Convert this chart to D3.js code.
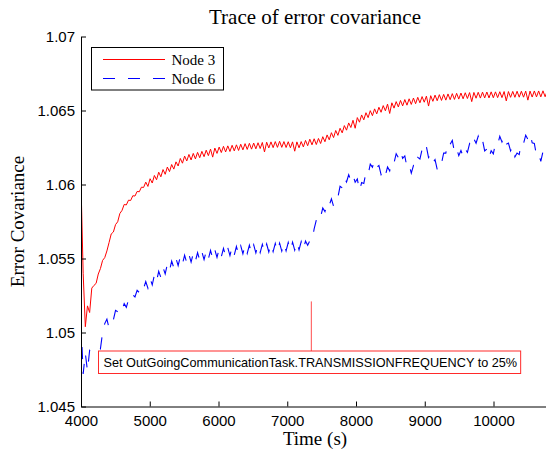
<!DOCTYPE html>
<html>
<head>
<meta charset="utf-8">
<script src="https://cdn.jsdelivr.net/npm/d3@7"></script>
<style>
  body { margin: 0; background: #fff; }
  svg { display: block; }
</style>
</head>
<body>
<svg id="chart" width="546" height="452"></svg>
<script>
// samples start at 4000 s, one every 31.4 s
const sampleStart = 4000;
const sampleStep = 31.4;

const node3 = [
  1.06008, 1.05400, 1.05039, 1.05180, 1.05135, 1.05300, 1.05318, 1.05332, 1.05395, 1.05432,
  1.05487, 1.05506, 1.05551, 1.05608, 1.05666, 1.05679, 1.05729, 1.05748, 1.05804, 1.05825,
  1.05865, 1.05862, 1.05894, 1.05892, 1.05924, 1.05922, 1.05953, 1.05951, 1.05982, 1.05980,
  1.06016, 1.05987, 1.06039, 1.06010, 1.06061, 1.06032, 1.06083, 1.06052, 1.06101, 1.06069,
  1.06118, 1.06087, 1.06135, 1.06104, 1.06153, 1.06125, 1.06176, 1.06144, 1.06192, 1.06159,
  1.06203, 1.06166, 1.06210, 1.06173, 1.06217, 1.06181, 1.06224, 1.06188, 1.06232, 1.06195,
  1.06239, 1.06185, 1.06246, 1.06210, 1.06253, 1.06216, 1.06258, 1.06220, 1.06261, 1.06223,
  1.06265, 1.06227, 1.06268, 1.06230, 1.06272, 1.06234, 1.06276, 1.06237, 1.06278, 1.06239,
  1.06280, 1.06241, 1.06282, 1.06243, 1.06284, 1.06220, 1.06286, 1.06247, 1.06288, 1.06249,
  1.06290, 1.06251, 1.06292, 1.06251, 1.06290, 1.06250, 1.06289, 1.06248, 1.06288, 1.06225,
  1.06288, 1.06248, 1.06290, 1.06254, 1.06298, 1.06262, 1.06306, 1.06268, 1.06309, 1.06270,
  1.06311, 1.06277, 1.06323, 1.06289, 1.06335, 1.06302, 1.06350, 1.06317, 1.06365, 1.06332,
  1.06380, 1.06349, 1.06398, 1.06367, 1.06416, 1.06385, 1.06434, 1.06380, 1.06452, 1.06421,
  1.06470, 1.06437, 1.06485, 1.06452, 1.06499, 1.06465, 1.06511, 1.06477, 1.06522, 1.06488,
  1.06533, 1.06498, 1.06543, 1.06480, 1.06552, 1.06516, 1.06560, 1.06524, 1.06568, 1.06531,
  1.06574, 1.06536, 1.06579, 1.06541, 1.06584, 1.06546, 1.06589, 1.06552, 1.06594, 1.06556,
  1.06597, 1.06530, 1.06600, 1.06562, 1.06604, 1.06566, 1.06607, 1.06568, 1.06609, 1.06570,
  1.06612, 1.06573, 1.06614, 1.06575, 1.06616, 1.06577, 1.06618, 1.06579, 1.06620, 1.06581,
  1.06621, 1.06560, 1.06622, 1.06583, 1.06623, 1.06584, 1.06624, 1.06585, 1.06625, 1.06585,
  1.06626, 1.06586, 1.06626, 1.06587, 1.06627, 1.06587, 1.06628, 1.06565, 1.06628, 1.06589,
  1.06629, 1.06589, 1.06630, 1.06590, 1.06630, 1.06590, 1.06631, 1.06570, 1.06631, 1.06591,
  1.06632, 1.06592, 1.06632, 1.06592, 1.06633, 1.06593, 1.06633, 1.06593
];

const node6 = [
  1.05070, 1.04720, 1.04860, 1.04740, 1.04880, 1.04870, 1.04885, 1.04892, 1.04905, 1.04890,
  1.05000, 1.05060, 1.05090, 1.05030, 1.05045, 1.05085, 1.05150, 1.05140, 1.05170, 1.05150,
  1.05195, 1.05170, 1.05220, 1.05210, 1.05255, 1.05240, 1.05285, 1.05270, 1.05315, 1.05298,
  1.05344, 1.05300, 1.05366, 1.05321, 1.05389, 1.05346, 1.05414, 1.05372, 1.05440, 1.05396,
  1.05462, 1.05418, 1.05483, 1.05437, 1.05500, 1.05452, 1.05513, 1.05464, 1.05522, 1.05470,
  1.05528, 1.05476, 1.05534, 1.05482, 1.05540, 1.05488, 1.05545, 1.05492, 1.05550, 1.05497,
  1.05554, 1.05501, 1.05559, 1.05507, 1.05565, 1.05512, 1.05569, 1.05516, 1.05573, 1.05520,
  1.05577, 1.05524, 1.05581, 1.05528, 1.05585, 1.05532, 1.05588, 1.05534, 1.05590, 1.05536,
  1.05592, 1.05538, 1.05594, 1.05540, 1.05596, 1.05542, 1.05598, 1.05544, 1.05600, 1.05546,
  1.05602, 1.05548, 1.05604, 1.05550, 1.05606, 1.05552, 1.05608, 1.05554, 1.05610, 1.05556,
  1.05612, 1.05558, 1.05614, 1.05560, 1.05618, 1.05590, 1.05620, 1.05615, 1.05700, 1.05760,
  1.05800, 1.05781, 1.05841, 1.05817, 1.05878, 1.05860, 1.05903, 1.05852, 1.05903, 1.05912,
  1.05988, 1.05977, 1.06043, 1.06017, 1.06066, 1.06027, 1.06064, 1.06015, 1.06038, 1.05957,
  1.06013, 1.06007, 1.06083, 1.06067, 1.06138, 1.06117, 1.06163, 1.06117, 1.06128, 1.06067,
  1.06100, 1.06062, 1.06118, 1.06092, 1.06158, 1.06145, 1.06208, 1.06182, 1.06228, 1.06177,
  1.06193, 1.06117, 1.06133, 1.06077, 1.06128, 1.06112, 1.06183, 1.06172, 1.06238, 1.06212,
  1.06256, 1.06182, 1.06203, 1.06147, 1.06168, 1.06102, 1.06153, 1.06142, 1.06213, 1.06212,
  1.06288, 1.06272, 1.06298, 1.06217, 1.06243, 1.06195, 1.06230, 1.06189, 1.06240, 1.06217,
  1.06276, 1.06252, 1.06308, 1.06279, 1.06326, 1.06275, 1.06300, 1.06227, 1.06240, 1.06182,
  1.06228, 1.06207, 1.06278, 1.06267, 1.06326, 1.06287, 1.06326, 1.06272, 1.06280, 1.06227,
  1.06258, 1.06187, 1.06213, 1.06202, 1.06288, 1.06277, 1.06333, 1.06305, 1.06343, 1.06282,
  1.06278, 1.06195, 1.06208, 1.06157, 1.06223, 1.06202, 1.06253, 1.06222
];

const seriesNames = ['Node 3', 'Node 6'];
const xTicks = [4000, 5000, 6000, 7000, 8000, 9000, 10000];
const yTicks = [1.045, 1.05, 1.055, 1.06, 1.065, 1.07];

// event marker
const eventTime = 7350;
const eventTop = 1.0521;
const eventLabel = 'Set OutGoingCommunicationTask.TRANSMISSIONFREQUENCY to 25%';

const svg = d3.select('#chart');
const plotLeft = 81, plotRight = 562.25, plotTop = 36.5, plotBottom = 406.5;

const x = d3.scaleLinear().domain([4000, 11000]).range([plotLeft, plotRight]);
const y = d3.scaleLinear().domain([1.045, 1.07]).range([plotBottom, plotTop]);

const times = node3.map((d, i) => sampleStart + i * sampleStep);

svg.append('defs').append('clipPath').attr('id', 'plot-clip')
  .append('rect')
  .attr('x', plotLeft).attr('y', plotTop - 2)
  .attr('width', plotRight - plotLeft).attr('height', plotBottom - plotTop + 2);

const line = d3.line()
  .x((d, i) => x(times[i]))
  .y((d) => y(d));

const graph = svg.append('g').attr('clip-path', 'url(#plot-clip)');

graph.append('path')
  .datum(node3)
  .attr('fill', 'none')
  .attr('stroke', '#ff0000')
  .attr('stroke-width', 1)
  .attr('stroke-linejoin', 'round')
  .attr('d', line);

graph.append('path')
  .datum(node6)
  .attr('fill', 'none')
  .attr('stroke', '#0000ff')
  .attr('stroke-width', 1.1)
  .attr('stroke-dasharray', '12,13')
  .attr('d', line);

// axes (MATLAB style: ticks inside, no box)
const yAxis = d3.axisLeft(y)
  .tickValues(yTicks)
  .tickFormat(d3.format('.3~f'))
  .tickSizeInner(-5)
  .tickSizeOuter(0)
  .tickPadding(6);

const xAxis = d3.axisBottom(x)
  .tickValues(xTicks)
  .tickFormat(d3.format('d'))
  .tickSizeInner(-5)
  .tickSizeOuter(0)
  .tickPadding(8);

const gy = svg.append('g').attr('transform', `translate(${plotLeft},0)`).call(yAxis);
const gx = svg.append('g').attr('transform', `translate(0,${plotBottom})`).call(xAxis);

[gx, gy].forEach((g) => {
  g.selectAll('text')
    .attr('font-family', 'Liberation Sans, Arial, sans-serif')
    .attr('font-size', 15)
    .attr('fill', '#000');
  g.selectAll('line, path').attr('stroke', '#000');
});
gx.selectAll('text').attr('dy', null).attr('y', 19.5);

// event annotation
svg.append('line')
  .attr('x1', x(eventTime)).attr('x2', x(eventTime))
  .attr('y1', y(eventTop)).attr('y2', 351)
  .attr('stroke', '#ff4d4d')
  .attr('stroke-width', 1);

const box = svg.append('rect')
  .attr('fill', '#fff')
  .attr('stroke', '#ff2a2a')
  .attr('stroke-width', 1);

const label = svg.append('text')
  .attr('x', 103.5)
  .attr('y', 366.5)
  .attr('font-family', 'Liberation Sans, Arial, sans-serif')
  .attr('font-size', 12.7)
  .attr('fill', '#000')
  .text(eventLabel);

const bb = label.node().getBBox();
box.attr('x', bb.x - 5).attr('y', 351)
  .attr('width', bb.width + 8.5).attr('height', 22.5);

// legend
const legend = svg.append('g');
legend.append('rect')
  .attr('x', 91.5).attr('y', 47.5)
  .attr('width', 132).attr('height', 42.5)
  .attr('fill', '#fff')
  .attr('stroke', '#000')
  .attr('stroke-width', 1);

const legendRows = [
  { name: seriesNames[0], color: '#ff0000', dash: null, y: 59.5 },
  { name: seriesNames[1], color: '#0000ff', dash: '12,13', y: 78.5 },
];

legendRows.forEach((r) => {
  legend.append('line')
    .attr('x1', 103).attr('x2', 165)
    .attr('y1', r.y).attr('y2', r.y)
    .attr('stroke', r.color)
    .attr('stroke-width', 1.1)
    .attr('stroke-dasharray', r.dash);
  legend.append('text')
    .attr('x', 171.5)
    .attr('y', r.y + 5.5)
    .attr('font-family', 'Liberation Serif, Times New Roman, serif')
    .attr('font-size', 15)
    .attr('fill', '#000')
    .text(r.name);
});

// titles
const titleX = 315;
svg.append('text')
  .attr('x', titleX)
  .attr('y', 23.5)
  .attr('text-anchor', 'middle')
  .attr('font-family', 'Liberation Serif, Times New Roman, serif')
  .attr('font-size', 21)
  .text('Trace of error covariance');

svg.append('text')
  .attr('x', titleX)
  .attr('y', 445)
  .attr('text-anchor', 'middle')
  .attr('font-family', 'Liberation Serif, Times New Roman, serif')
  .attr('font-size', 19)
  .text('Time (s)');

svg.append('text')
  .attr('transform', `translate(24,${(plotTop + plotBottom) / 2}) rotate(-90)`)
  .attr('text-anchor', 'middle')
  .attr('font-family', 'Liberation Serif, Times New Roman, serif')
  .attr('font-size', 19)
  .text('Error Covariance');
</script>
</body>
</html>
